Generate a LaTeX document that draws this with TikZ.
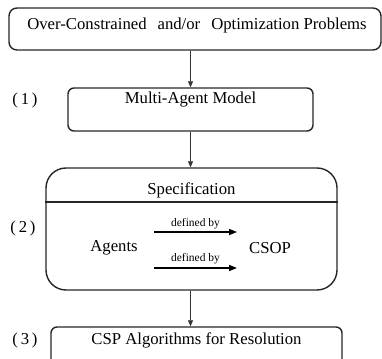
\documentclass[tikz,border=0pt]{standalone}
\usepackage{fontspec}
\setmainfont{Liberation Serif}
\usetikzlibrary{arrows.meta}
\begin{document}
\begin{tikzpicture}[x=1pt,y=-1pt,
  box/.style={draw=black!85, line width=1.4pt, minimum width=#1, inner sep=0pt},
  txt/.style={font=\fontsize{16.7}{19}\selectfont, inner sep=0pt},
  small/.style={font=\fontsize{11.5}{13}\selectfont, inner sep=0pt},
  flow/.style={draw=black!80, line width=0.7pt, -{Triangle[length=6pt,width=5pt]}},
  defarrow/.style={draw=black, line width=1.6pt, -{Triangle[length=8pt,width=6pt]}}]
\useasboundingbox (0,0) rectangle (382,358);
\clip (0,0) rectangle (382,358);
% boxes
\node[box=372pt, minimum height=42pt, rounded corners=8pt] (top) at (195,29) {};
\node[txt] (toptxt) at (197,25) {Over-Constrained\hspace{11pt}and/or\hspace{11pt}Optimization Problems};
\node[box=245pt, minimum height=43pt, rounded corners=6pt] (mam) at (190.5,109.5) {};
\node[txt] (mamtxt) at (190.5,100) {Multi-Agent Model};
\node[box=291pt, minimum height=122pt, rounded corners=20pt] (spec) at (191.5,229) {};
\node[txt] (spectxt) at (191.5,190) {Specification};
\draw[line width=1.4pt, draw=black!85] (spec.west |- 0,202) coordinate (dl) -- (spec.east |- 0,202) coordinate (dr);
\node[box=291pt, minimum height=50pt, rounded corners=6pt] (csp) at (196.5,352) {};
\node[txt] (csptxt) at (196.5,340) {CSP Algorithms for Resolution};
% inner
\node[txt] (agents) at (114,248) {Agents};
\node[txt] (csop) at (270,248) {CSOP};
\coordinate (a1s) at (154,232);
\coordinate (a1e) at (237,232);
\coordinate (a2s) at (154,268);
\coordinate (a2e) at (237,268);
\draw[defarrow] (a1s) -- (a1e);
\draw[defarrow] (a2s) -- (a2e);
\node[small] (l1) at (195.5,224) {defined by};
\node[small] (l2) at (195.5,259) {defined by};
% flow arrows
\draw[flow] (top.south -| mam.north) -- (mam.north);
\draw[flow] (mam.south) -- (mam.south |- spec.north);
\draw[flow] (spec.south -| mam.south) -- (mam.south |- csp.north);
% step labels
\node[txt] (s1) at (25,100) {(\,1\,)};
\node[txt] (s2) at (23,228) {(\,2\,)};
\node[txt] (s3) at (25,340) {(\,3\,)};
\end{tikzpicture}
\end{document}
